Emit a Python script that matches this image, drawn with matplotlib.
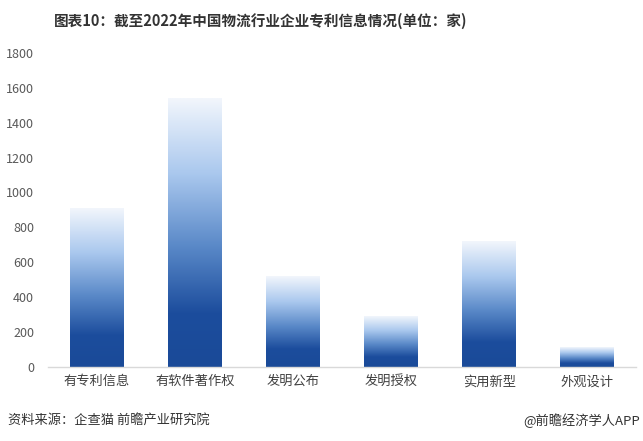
import matplotlib.pyplot as plt
import numpy as np
from matplotlib.colors import LinearSegmentedColormap

plt.rcParams['font.family'] = ['Noto Sans CJK SC', 'DejaVu Sans']

categories = ['有专利信息', '有软件著作权', '发明公布', '发明授权', '实用新型', '外观设计']
values = [910, 1540, 518, 288, 722, 110]
yticks = [0, 200, 400, 600, 800, 1000, 1200, 1400, 1600, 1800]

# dark blue at the bottom fading to near white at the top
cmap = LinearSegmentedColormap.from_list('bar', [
    (0.0, '#1a4a98'),
    (0.2, '#1c4d9d'),
    (0.45, '#5a89c8'),
    (0.72, '#aac8ee'),
    (1.0, '#f2f6fc'),
])

fig = plt.figure(figsize=(6.43, 4.41), dpi=100)
ax = fig.add_axes([0.0747, 0.168, 0.9145, 0.712])

barWidth = 0.55
grad = np.linspace(0, 1, 256).reshape(-1, 1)
for i, v in enumerate(values):
    ax.imshow(grad, cmap=cmap, origin='lower', aspect='auto',
              extent=[i - barWidth / 2, i + barWidth / 2, 0, v], zorder=2)

ax.set_xlim(-0.5, len(categories) - 0.5)
ax.set_ylim(0, 1800)
ax.set_yticks(yticks)
ax.set_yticklabels([str(t) for t in yticks], fontsize=9, color='#595959')
ax.set_xticks(range(len(categories)))
ax.set_xticklabels(categories, fontsize=9.5, color='#404040')
ax.tick_params(axis='both', length=0)
ax.tick_params(axis='x', pad=6)
ax.tick_params(axis='y', pad=10)

for s in ['top', 'right', 'left']:
    ax.spines[s].set_visible(False)
ax.spines['bottom'].set_color('#d9d9d9')
ax.spines['bottom'].set_linewidth(1)

fig.text(0.405, 0.953, '图表10：截至2022年中国物流行业企业专利信息情况(单位：家)',
         ha='center', va='center', fontsize=10.5, fontweight='bold', color='#333333')
fig.text(0.012, 0.047, '资料来源：企查猫 前瞻产业研究院', ha='left', va='center',
         fontsize=9.5, color='#333333')
fig.text(0.995, 0.047, '@前瞻经济学人APP', ha='right', va='center',
         fontsize=9.5, color='#333333')

fig.savefig('out.png', dpi=100)
